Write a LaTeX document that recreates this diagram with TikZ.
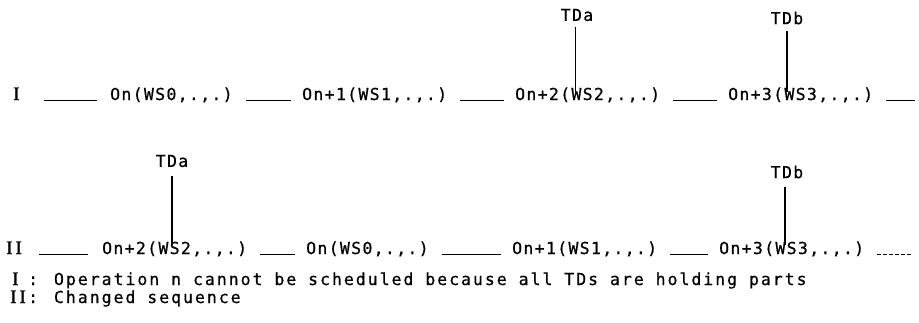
\documentclass[tikz,border=0pt]{standalone}
\usepackage{fontspec}
\setmainfont{Liberation Serif}
\newfontfamily\twfont[LetterSpace=8,FakeBold=0.6]{DejaVu Sans Mono}
\newfontfamily\fnfont[LetterSpace=12,FakeBold=0.6]{DejaVu Sans Mono}
\newfontfamily\rnfont[FakeBold=1]{Liberation Serif}
\usetikzlibrary{calc}
\begin{document}
\begin{tikzpicture}[x=1pt,y=-1pt,
  op/.style={font=\twfont\fontsize{16.5}{18}\selectfont, inner sep=0pt, anchor=base west},
  fn/.style={font=\fnfont\fontsize{16.5}{18}\selectfont, inner sep=0pt, anchor=base west},
  tdlabel/.style={font=\twfont\fontsize{16.5}{18}\selectfont, inner sep=0pt},
  rn/.style={font=\rnfont\fontsize{19}{20}\selectfont, inner sep=0pt, anchor=base west},
  conn/.style={line width=1pt, black},
  dconn/.style={line width=0.9pt, black, dash pattern=on 4pt off 2pt},
  tdline/.style={line width=1.3pt, black}]
\useasboundingbox (0,0) rectangle (919,322);

% Row I
\node[rn] (r1) at (13,100) {I};
\node[op] (a1) at (110,100) {On(WS0,.,.)};
\node[op] (a2) at (302,100) {On+1(WS1,.,.)};
\node[op] (a3) at (515,100) {On+2(WS2,.,.)};
\node[op] (a4) at (728,100) {On+3(WS3,.,.)};
\coordinate (e1) at (915,100);
\draw[conn] ($(r1.base east)+(24,0)$) -- ($(a1.base west)+(-13,0)$);
\draw[conn] ($(a1.base east)+(13,0)$) -- ($(a2.base west)+(-11,0)$);
\draw[conn] ($(a2.base east)+(13,0)$) -- ($(a3.base west)+(-11,0)$);
\draw[conn] ($(a3.base east)+(13,0)$) -- ($(a4.base west)+(-11,0)$);
\draw[conn] ($(a4.base east)+(13,0)$) -- (e1);
\node[tdlabel] (ta1) at (577,15) {TDa};
\node[tdlabel] (tb1) at (787,18) {TDb};
\draw[tdline] ($(ta1.south)+(-1.5,6)$) -- ($(ta1.south |- a3.north)+(-1.5,5)$);
\draw[tdline] ($(tb1.south)+(0,6)$) -- ($(tb1.south |- a4.north)+(0,5)$);

% Row II
\node[rn] (r2) at (6,254) {I\kern3ptI};
\node[op] (b1) at (102,254) {On+2(WS2,.,.)};
\node[op] (b2) at (306,254) {On(WS0,.,.)};
\node[op] (b3) at (512,254) {On+1(WS1,.,.)};
\node[op] (b4) at (719,254) {On+3(WS3,.,.)};
\coordinate (e2) at (912,254);
\draw[conn] ($(r2.base east)+(17,0)$) -- ($(b1.base west)+(-14,0)$);
\draw[conn] ($(b1.base east)+(13,0)$) -- ($(b2.base west)+(-11,0)$);
\draw[conn] ($(b2.base east)+(13,0)$) -- ($(b3.base west)+(-11,0)$);
\draw[conn] ($(b3.base east)+(13,0)$) -- ($(b4.base west)+(-11,0)$);
\draw[dconn] ($(b4.base east)+(13,0)$) -- (e2);
\node[tdlabel] (ta2) at (172,161) {TDa};
\node[tdlabel] (tb2) at (787,172) {TDb};
\draw[tdline] ($(ta2.south)+(0,9)$) -- ($(ta2.south |- b1.north)+(0,4)$);
\draw[tdline] ($(tb2.south)+(-2,8)$) -- ($(tb2.south |- b4.north)+(-2,4)$);

% Footnotes
\node[rn] (f1n) at (12,285) {I};
\node[fn] (f1) at (28,285) {: Operation n cannot be scheduled because all TDs are holding parts};
\node[rn] (f2n) at (10,303) {I\kern3ptI};
\node[fn] (f2) at (28,303) {: Changed sequence};
\end{tikzpicture}
\end{document}
